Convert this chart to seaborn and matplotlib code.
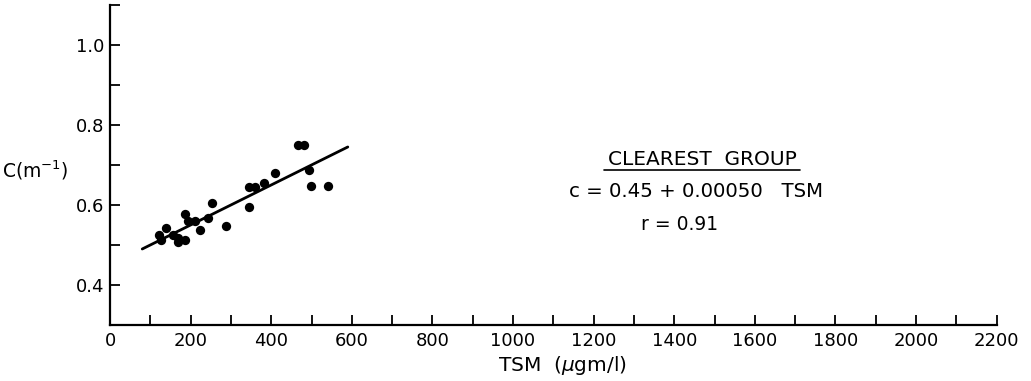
import matplotlib
matplotlib.use("Agg")
import matplotlib.pyplot as plt
from matplotlib.ticker import MultipleLocator
import numpy as np
import pandas as pd
import seaborn as sns

# Total suspended matter (ug/l) and beam attenuation c (1/m), clearest group
tsm = [121, 127, 140, 156, 169, 169, 185, 185, 194, 210, 223, 244, 254, 287,
       344, 346, 360, 381, 410, 467, 481, 494, 498, 540]
c_val = [0.525, 0.512, 0.542, 0.525, 0.517, 0.508, 0.512, 0.578, 0.561, 0.561,
         0.537, 0.567, 0.606, 0.547, 0.596, 0.646, 0.646, 0.656, 0.679, 0.750,
         0.750, 0.688, 0.648, 0.648]

# Fitted regression c = a + b * TSM
intercept = 0.45
slope = 0.00050
fit_range = [80, 590]

x_ticks = list(range(0, 2201, 200))
y_ticks = [0.4, 0.6, 0.8, 1.0]
y_tick_labels = ["0.4", "0.6", "0.8", "1.0"]

sns.set_theme(style="white")
plt.rcParams["font.family"] = ["DejaVu Sans"]
plt.rcParams["text.color"] = "black"

fig = plt.figure(figsize=(10.31, 3.81), dpi=100)
ax = fig.add_axes([0.1067, 0.147, 0.860, 0.840])

df = pd.DataFrame({"TSM": tsm, "c": c_val})
sns.scatterplot(data=df, x="TSM", y="c", ax=ax, color="black", s=45,
                edgecolor="black", linewidth=0)

fx = np.array(fit_range, dtype=float)
fit_df = pd.DataFrame({"TSM": fx, "c": intercept + slope * fx})
sns.lineplot(data=fit_df, x="TSM", y="c", ax=ax, color="black", linewidth=2)

ax.set_xlim(0, 2200)
ax.set_ylim(0.3, 1.1)
ax.set_xticks(x_ticks)
ax.set_xticklabels([str(v) for v in x_ticks])
ax.set_yticks(y_ticks)
ax.set_yticklabels(y_tick_labels)
ax.xaxis.set_minor_locator(MultipleLocator(100))
ax.yaxis.set_minor_locator(MultipleLocator(0.1))
ax.tick_params(axis="both", which="both", direction="in", length=7,
               width=1.3, color="black", labelsize=13, labelcolor="black")
ax.tick_params(axis="x", which="both", top=False, bottom=True, pad=5)
ax.tick_params(axis="y", which="both", left=True, right=False, pad=4)

for side in ("top", "right"):
    ax.spines[side].set_visible(False)
for side in ("left", "bottom"):
    ax.spines[side].set_color("black")
    ax.spines[side].set_linewidth(1.6)

ax.set_xlabel("TSM  ($\\mu$gm/l)", fontsize=14.5, color="black")
ax.xaxis.set_label_coords(0.51, -0.09)
ax.set_ylabel("")
fig.text(0.034, 0.553, "C(m$^{-1}$)", fontsize=13.5, ha="center",
         va="center", color="black")

ax.text(1469, 0.7125, "CLEAREST  GROUP", fontsize=14.5, ha="center",
        va="center", color="black")
ax.plot([1226, 1711], [0.687, 0.687], color="black", linewidth=1.2)
ax.text(1454, 0.6325, "c = 0.45 + 0.00050   TSM", fontsize=14.2, ha="center",
        va="center", color="black")
ax.text(1414, 0.550, "r = 0.91", fontsize=13.5, ha="center", va="center",
        color="black")

fig.savefig("out.png", dpi=100)
